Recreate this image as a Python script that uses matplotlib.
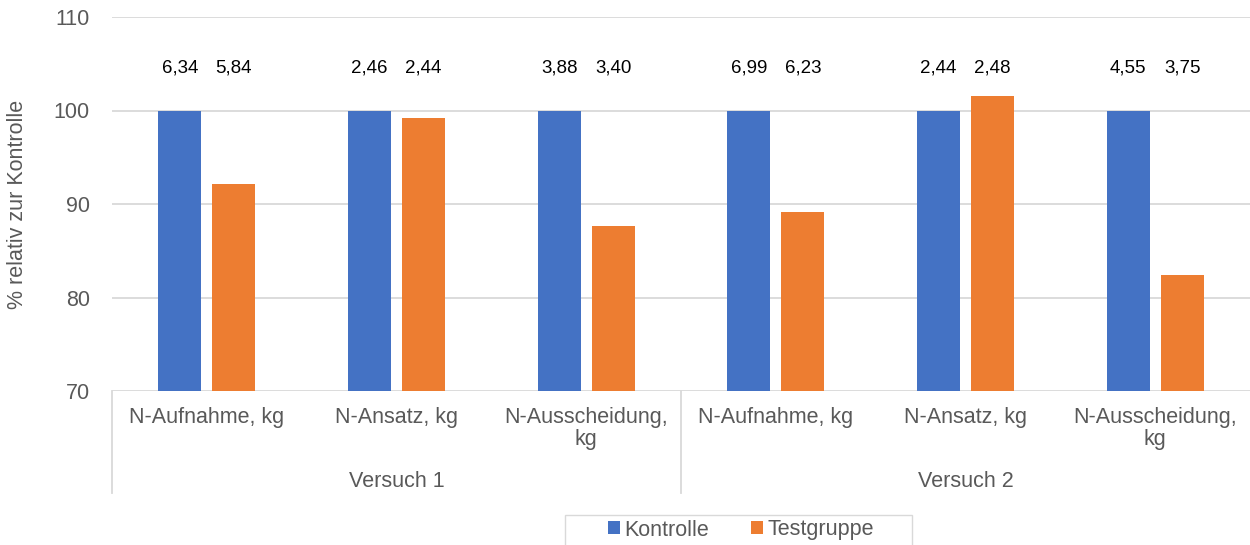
import matplotlib
matplotlib.use("Agg")
import matplotlib.pyplot as plt
import matplotlib.transforms as mtransforms
from matplotlib.patches import Patch, Rectangle
import numpy as np

plt.rcParams['font.family'] = ['Liberation Sans', 'DejaVu Sans']

# Data
categories = ["N-Aufnahme, kg", "N-Ansatz, kg", "N-Ausscheidung,\nkg",
              "N-Aufnahme, kg", "N-Ansatz, kg", "N-Ausscheidung,\nkg"]
groups = ["Versuch 1", "Versuch 2"]
kontrolle = [100, 100, 100, 100, 100, 100]
testgruppe = [92.1, 99.2, 87.6, 89.1, 101.6, 82.4]
kontrolle_abs = ["6,34", "2,46", "3,88", "6,99", "2,44", "4,55"]
testgruppe_abs = ["5,84", "2,44", "3,40", "6,23", "2,48", "3,75"]
y_ticks = [70, 80, 90, 100, 110]

BLUE = "#4472C4"
ORANGE = "#ED7D31"
GRAY_TXT = "#595959"
GRID = "#D9D9D9"

fig = plt.figure(figsize=(12.5, 5.45), dpi=100)
ax = fig.add_axes([112 / 1250, 1 - 391 / 545, 1138 / 1250, 374 / 545])

x = np.arange(len(categories))
w = 0.227
off = 0.142
ax.bar(x - off, kontrolle, width=w, color=BLUE, zorder=3)
ax.bar(x + off, testgruppe, width=w, color=ORANGE, zorder=3)

# absolute values above the bars
for i in range(len(categories)):
    ax.text(x[i] - off, 104.5, kontrolle_abs[i], ha='center', va='center',
            fontsize=13.5, color='#000000')
    ax.text(x[i] + off, 104.5, testgruppe_abs[i], ha='center', va='center',
            fontsize=13.5, color='#000000')

ax.set_ylim(70, 110)
ax.set_xlim(-0.5, len(categories) - 0.5)
ax.set_yticks(y_ticks)
ax.tick_params(axis='y', length=0, pad=16, labelsize=15.5, labelcolor=GRAY_TXT)
ax.set_xticks([])
ax.grid(axis='y', color=GRID, linewidth=1.3, zorder=0)
for s in ax.spines.values():
    s.set_visible(False)

# multi-level category axis
trans = mtransforms.blended_transform_factory(ax.transData, ax.transAxes)
for i, lab in enumerate(categories):
    ax.text(x[i], -0.043, lab, transform=trans, ha='center', va='top',
            fontsize=15.5, color=GRAY_TXT, linespacing=1.05)
for g, name in enumerate(groups):
    ax.text(3 * g + 1, -0.241, name, transform=trans, ha='center', va='center',
            fontsize=15.5, color=GRAY_TXT)
for xs in [-0.5, 2.5]:
    ax.plot([xs, xs], [0, -0.273], transform=trans, color=GRID, linewidth=1.3,
            clip_on=False)

fig.text(18 / 1250, 1 - 204 / 545, "% relativ zur Kontrolle", rotation=90,
         ha='center', va='center', fontsize=15.5, color=GRAY_TXT)

# legend with a wide frame drawn separately
fig.patches.append(Rectangle((565 / 1250, -0.01), 347 / 1250, (545 - 515) / 545 + 0.01,
                             transform=fig.transFigure, facecolor='white',
                             edgecolor=GRID, linewidth=1.0))
handles = [Patch(facecolor=BLUE, label="Kontrolle"),
           Patch(facecolor=ORANGE, label="Testgruppe")]
leg = fig.legend(handles=handles, loc='center', bbox_to_anchor=(741 / 1250, 1 - 530 / 545),
                 ncol=2, frameon=False, fontsize=15.5,
                 handlelength=0.55, handleheight=0.55, handletextpad=0.2,
                 columnspacing=1.95, borderpad=0.3)
for t in leg.get_texts():
    t.set_color(GRAY_TXT)

fig.savefig("out.png", dpi=100)
